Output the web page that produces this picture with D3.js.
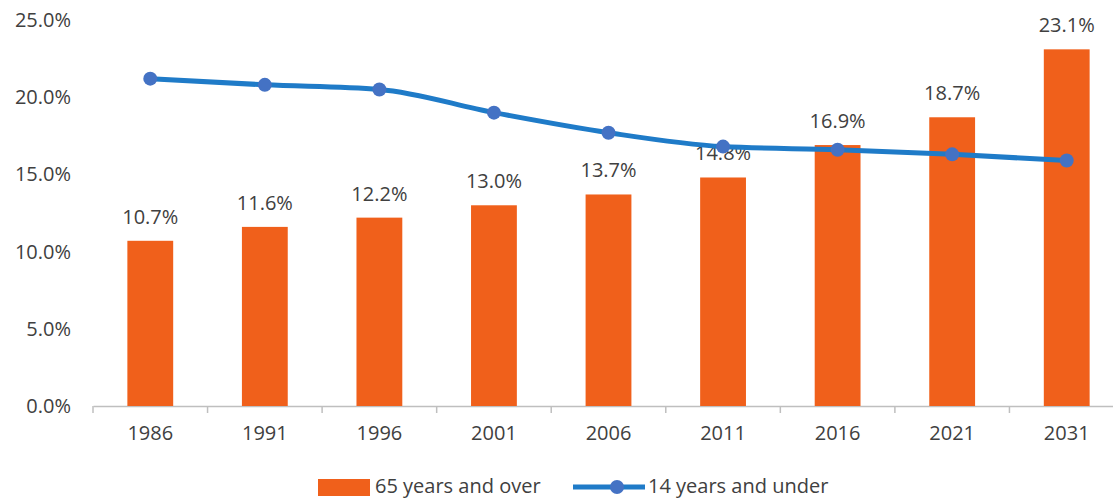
<!DOCTYPE html>
<html>
<head>
<meta charset="utf-8">
<script src="https://cdn.jsdelivr.net/npm/d3@7"></script>
<style>
  body { margin: 0; background: #fff; }
  svg text { font-family: "Open Sans", Lato, sans-serif; fill: #404040; }
</style>
</head>
<body>
<div id="chart"></div>
<script>
// chart data
const years = ["1986", "1991", "1996", "2001", "2006", "2011", "2016", "2021", "2031"];
const over65 = [10.7, 11.6, 12.2, 13.0, 13.7, 14.8, 16.9, 18.7, 23.1];
const under14 = [21.2, 20.8, 20.5, 19.0, 17.7, 16.8, 16.6, 16.3, 15.9];
const yTicks = [0, 5, 10, 15, 20, 25];

const width = 1113, height = 500;
const fontSize = "20px";
const svg = d3.select("#chart").append("svg")
  .attr("width", width)
  .attr("height", height);

const x = d3.scaleBand().domain(years).range([93, 1124]).paddingInner(0.6).paddingOuter(0.3);
const y = d3.scaleLinear().domain([0, 25]).range([406, 20]);

// y axis labels
svg.append("g").selectAll("text")
  .data(yTicks)
  .enter().append("text")
  .attr("x", 71)
  .attr("y", d => y(d) + 7)
  .attr("text-anchor", "end")
  .attr("font-size", fontSize)
  .text(d => d.toFixed(1) + "%");

// x axis
const xAxis = svg.append("g")
  .attr("transform", "translate(0,406)")
  .call(d3.axisBottom(x).tickSize(0).tickPadding(20));
xAxis.select(".domain").attr("stroke", "#bfbfbf").attr("stroke-width", 1.5);
xAxis.selectAll("text").attr("font-size", fontSize).attr("fill", "#404040")
  .style("font-family", "'Open Sans', Lato, sans-serif");

// tick marks between categories
const step = x.step();
const tickXs = [93].concat(years.slice(0, -1).map(d => x(d) + x.bandwidth() / 2 + step / 2));
svg.append("g").selectAll("line")
  .data(tickXs)
  .enter().append("line")
  .attr("x1", d => d).attr("x2", d => d)
  .attr("y1", 406).attr("y2", 413)
  .attr("stroke", "#bfbfbf").attr("stroke-width", 1.5);

// bars
svg.append("g").selectAll("rect")
  .data(over65)
  .enter().append("rect")
  .attr("x", (d, i) => x(years[i]))
  .attr("y", d => y(d))
  .attr("width", x.bandwidth())
  .attr("height", d => y(0) - y(d))
  .attr("fill", "#F0601B");

// bar labels
svg.append("g").selectAll("text")
  .data(over65)
  .enter().append("text")
  .attr("x", (d, i) => x(years[i]) + x.bandwidth() / 2)
  .attr("y", d => y(d) - 17)
  .attr("text-anchor", "middle")
  .attr("font-size", fontSize)
  .text(d => d.toFixed(1) + "%");

// line series
const line = d3.line()
  .x((d, i) => x(years[i]) + x.bandwidth() / 2)
  .y(d => y(d))
  .curve(d3.curveMonotoneX);

svg.append("path")
  .datum(under14)
  .attr("d", line)
  .attr("fill", "none")
  .attr("stroke", "#1F7BC8")
  .attr("stroke-width", 5);

svg.append("g").selectAll("circle")
  .data(under14)
  .enter().append("circle")
  .attr("cx", (d, i) => x(years[i]) + x.bandwidth() / 2)
  .attr("cy", d => y(d))
  .attr("r", 7)
  .attr("fill", "#4472C4");

// legend
const legend = svg.append("g");
legend.append("rect").attr("x", 318).attr("y", 479).attr("width", 52).attr("height", 17).attr("fill", "#F0601B");
legend.append("text").attr("x", 375).attr("y", 493).attr("font-size", fontSize).text("65 years and over");
legend.append("line").attr("x1", 573).attr("x2", 645).attr("y1", 487).attr("y2", 487)
  .attr("stroke", "#1F7BC8").attr("stroke-width", 5);
legend.append("circle").attr("cx", 617).attr("cy", 487).attr("r", 7).attr("fill", "#4472C4");
legend.append("text").attr("x", 648).attr("y", 493).attr("font-size", fontSize).text("14 years and under");
</script>
</body>
</html>
